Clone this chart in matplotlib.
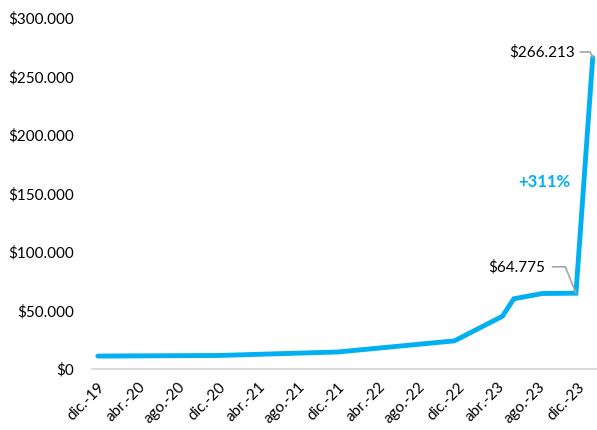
import numpy as np
import pandas as pd
import matplotlib
matplotlib.use('Agg')
import matplotlib.pyplot as plt
import matplotlib.dates as mdates
from matplotlib.ticker import FuncFormatter

# data
dates = ['2019-12-01', '2020-12-01', '2021-12-01', '2022-11-20', '2023-04-15',
         '2023-05-20', '2023-08-15', '2023-11-25', '2024-01-15']
values = [11000, 11500, 14500, 24000, 45000, 60000, 64500, 64775, 266213]

tick_dates = pd.date_range('2019-12-01', '2023-12-01', freq='4MS')
month_names = {1: 'ene', 2: 'feb', 3: 'mar', 4: 'abr', 5: 'may', 6: 'jun',
               7: 'jul', 8: 'ago', 9: 'sep', 10: 'oct', 11: 'nov', 12: 'dic'}
tick_labels = [f"{month_names[d.month]}.-{d.strftime('%y')}" for d in tick_dates]

growth_label = '+311%'

plt.rcParams['font.family'] = ['Lato', 'DejaVu Sans']
cyan = '#00B0F0'
grey = '#A6A6A6'

x = pd.to_datetime(dates)

fig = plt.figure(figsize=(5.97, 4.30), dpi=100)
ax = fig.add_axes([0.154, 0.142, 0.846, 0.816])

ax.plot(x, values, color=cyan, lw=3.5, solid_capstyle='round', solid_joinstyle='miter')

ax.set_ylim(0, 300000)
ax.set_xlim(pd.Timestamp('2019-11-13'), pd.Timestamp('2024-01-28'))
ax.set_yticks(np.arange(0, 300001, 50000))
ax.yaxis.set_major_formatter(FuncFormatter(lambda v, p: '$' + f'{int(v):,}'.replace(',', '.')))
ax.set_xticks(tick_dates)
ax.set_xticklabels(tick_labels, rotation=45, ha='right', rotation_mode='anchor')

for s in ['top', 'right', 'left']:
    ax.spines[s].set_visible(False)
ax.spines['bottom'].set_color('#D9D9D9')
ax.spines['bottom'].set_linewidth(1.3)
ax.tick_params(axis='both', length=0, labelsize=11, colors='black')
ax.tick_params(axis='y', pad=13)
ax.tick_params(axis='x', pad=8)

# callouts
last_x, last_y = mdates.date2num(x[-1]), values[-1]
prev_x, prev_y = mdates.date2num(x[-2]), values[-2]
ax.annotate(f"${last_y:,}".replace(',', '.'), xy=(last_x, last_y), xytext=(-13, 4),
            textcoords='offset points', ha='right', va='center', fontsize=11,
            arrowprops=dict(arrowstyle='-', color=grey, lw=1.2,
                            connectionstyle='angle,angleA=0,angleB=115,rad=0', shrinkA=2, shrinkB=0))
ax.annotate(f"${prev_y:,}".replace(',', '.'), xy=(prev_x, prev_y), xytext=(-22, 19),
            textcoords='offset points', ha='right', va='center', fontsize=11,
            arrowprops=dict(arrowstyle='-', color=grey, lw=1.2,
                            connectionstyle='angle,angleA=0,angleB=112,rad=0', shrinkA=3, shrinkB=0))
ax.text(pd.Timestamp('2023-08-22'), 160000, growth_label, color=cyan, fontsize=12,
        fontweight='bold', ha='center', va='center')

fig.savefig('out.png', dpi=100)
